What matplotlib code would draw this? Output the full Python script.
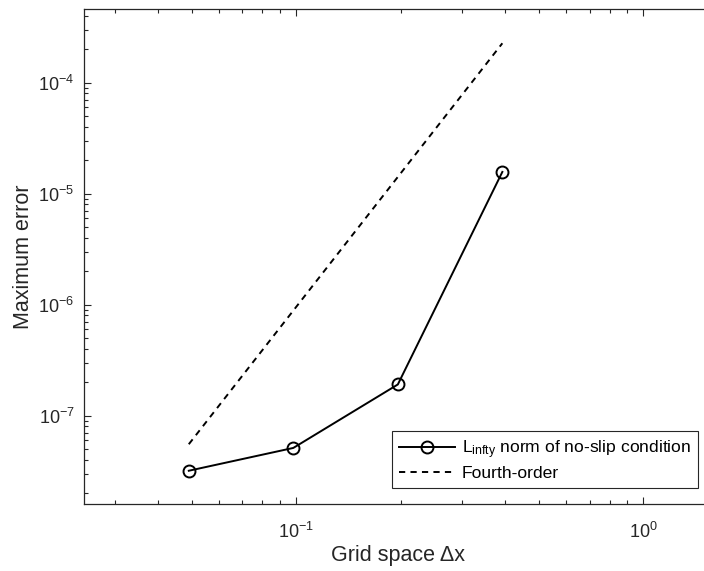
import numpy as np
import matplotlib.pyplot as plt

plt.rcParams['font.family'] = ['Liberation Sans', 'DejaVu Sans']
plt.rcParams['mathtext.fontset'] = 'custom'
plt.rcParams['mathtext.rm'] = 'Liberation Sans'
plt.rcParams['mathtext.it'] = 'Liberation Sans:italic'
plt.rcParams['mathtext.default'] = 'regular'

# grid spacings and measured max errors
dx = np.pi / np.array([64, 32, 16, 8])
err = np.array([3.19e-8, 5.12e-8, 1.91e-7, 1.57e-5])

# fourth-order reference slope
c4 = 9.52e-3
ref = c4 * dx**4

fig = plt.figure(figsize=(7.04, 5.71), dpi=100)
ax = fig.add_axes([0.1197, 0.1168, 0.8908, 0.8669])

ax.loglog(dx, err, '-o', color='k', lw=1.4, ms=8.6, mfc='none', mew=1.4,
          label=r'L$_{infty}$ norm of no-slip condition')
ax.loglog(dx, ref, '--', color='k', lw=1.4, dashes=(3.2, 2.7),
          label='Fourth-order')

ax.set_xlim(np.pi / 128, np.pi / 2)
ax.set_ylim(1.59e-8, 4.58e-4)

ax.set_xlabel('Grid space \u0394x', fontsize=15.5, color='#262626',
              labelpad=2)
ax.set_ylabel('Maximum error', fontsize=15.5, color='#262626', labelpad=3)

for s in ax.spines.values():
    s.set_color('#262626')
    s.set_linewidth(0.9)
ax.tick_params(which='both', direction='in', top=True, right=True,
               colors='#262626', labelsize=13, width=0.8)
ax.tick_params(which='major', length=5)
ax.tick_params(which='minor', length=3)
ax.tick_params(axis='x', which='major', pad=13)
ax.tick_params(axis='y', which='major', pad=7)

leg = ax.legend(loc='upper left', bbox_to_anchor=(391.7 / 704, 140 / 571),
                bbox_transform=fig.transFigure, fontsize=12.6,
                fancybox=False, framealpha=1, edgecolor='#262626',
                handlelength=3.2, borderpad=0.4, labelspacing=0.3,
                handletextpad=0.4, borderaxespad=0)
leg.get_frame().set_linewidth(0.8)

fig.savefig('out.png', dpi=100)
